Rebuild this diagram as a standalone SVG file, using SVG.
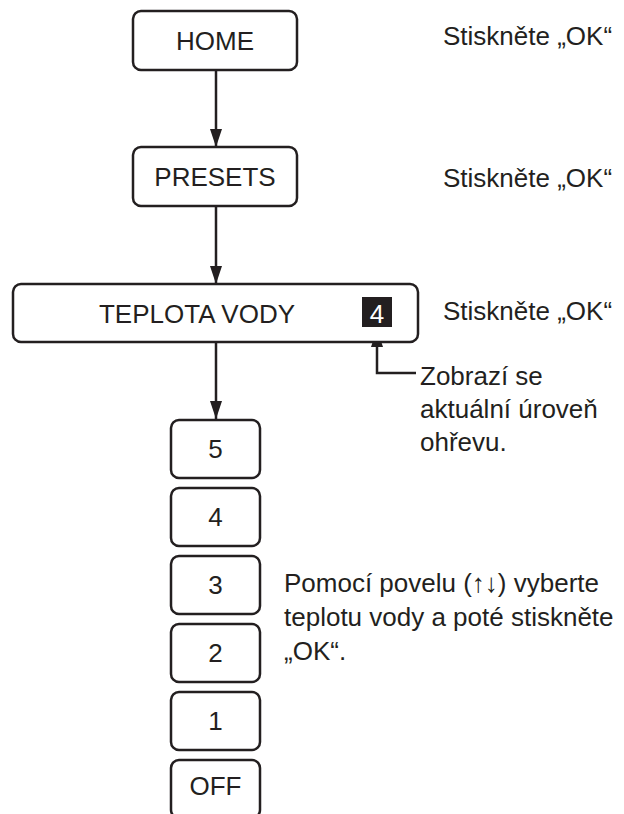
<svg xmlns="http://www.w3.org/2000/svg" width="624" height="814" viewBox="0 0 624 814">
<defs>
<style>
.box{fill:#fff;stroke:#231f20;stroke-width:2.5}
.t{font-family:"Liberation Sans",Arial,sans-serif;font-size:26px;fill:#231f20}
.c{text-anchor:middle}
.ln{stroke:#231f20;stroke-width:2.5;fill:none}
</style>
<marker id="ah" viewBox="0 0 18 12" refX="18" refY="6" markerWidth="18" markerHeight="12" markerUnits="userSpaceOnUse" orient="auto">
<path d="M0,0 L18,6 L0,12 Z" fill="#231f20"/>
</marker>
</defs>
<rect width="624" height="814" fill="#fff"/>
<g id="connectors">
<line class="ln" x1="216" y1="70" x2="216" y2="147" marker-end="url(#ah)"/>
<line class="ln" x1="216" y1="206" x2="216" y2="284" marker-end="url(#ah)"/>
<line class="ln" x1="216" y1="342" x2="216" y2="419" marker-end="url(#ah)"/>
<polyline class="ln" points="416,373 377,373 377,329" marker-end="url(#ah)"/>
</g>
<g id="home"><rect class="box" x="133" y="11" width="164" height="59" rx="8"/><text class="t c" x="215" y="50">HOME</text></g>
<g id="presets"><rect class="box" x="133" y="147" width="164" height="59" rx="8"/><text class="t c" x="215" y="186">PRESETS</text></g>
<g id="teplota"><rect class="box" x="13" y="284" width="405" height="58" rx="8"/><text class="t c" x="197" y="323">TEPLOTA VODY</text>
<rect x="362" y="297" width="30" height="30" fill="#231f20"/><text class="t c" x="377" y="323" style="fill:#fff">4</text></g>
<g id="n5"><rect class="box" x="171" y="420" width="89" height="58" rx="8"/><text class="t c" x="215.5" y="458">5</text></g>
<g id="n4"><rect class="box" x="171" y="488" width="89" height="58" rx="8"/><text class="t c" x="215.5" y="526">4</text></g>
<g id="n3"><rect class="box" x="171" y="556" width="89" height="58" rx="8"/><text class="t c" x="215.5" y="594">3</text></g>
<g id="n2"><rect class="box" x="171" y="624" width="89" height="58" rx="8"/><text class="t c" x="215.5" y="662">2</text></g>
<g id="n1"><rect class="box" x="171" y="692" width="89" height="58" rx="8"/><text class="t c" x="215.5" y="730">1</text></g>
<g id="off"><rect class="box" x="171" y="760" width="89" height="58" rx="8"/><text class="t c" x="215.5" y="795">OFF</text></g>
<g id="notes">
<text class="t" x="443" y="45">Stiskněte „OK“</text>
<text class="t" x="443" y="187">Stiskněte „OK“</text>
<text class="t" x="443" y="320">Stiskněte „OK“</text>
<text class="t" x="420" y="385">Zobrazí se</text>
<text class="t" x="420" y="418">aktuální úroveň</text>
<text class="t" x="420" y="451">ohřevu.</text>
<text class="t" x="284" y="592">Pomocí povelu (↑↓) vyberte</text>
<text class="t" x="284" y="626">teplotu vody a poté stiskněte</text>
<text class="t" x="284" y="660">„OK“.</text>
</g>
</svg>
